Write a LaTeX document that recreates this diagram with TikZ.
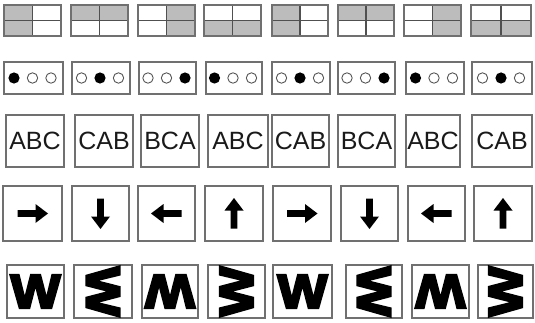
\documentclass[tikz,border=0pt]{standalone}
\usepackage{fontspec}
\setmainfont{Liberation Sans}
\newfontfamily\wfont{Liberation Sans}[FakeBold=5]
\usetikzlibrary{calc}
\definecolor{framegray}{HTML}{707070}
\definecolor{innergray}{HTML}{505050}
\definecolor{cellgray}{HTML}{BCBCBC}
\definecolor{dotgray}{HTML}{555555}
\definecolor{textblack}{HTML}{1A1A1A}
\begin{document}
\begin{tikzpicture}[x=1pt,y=-1pt,line join=miter]
\useasboundingbox (0,0) rectangle (535,323);
\tikzset{
  frame/.style={draw=framegray, line width=1.3pt},
  innerline/.style={draw=innergray, line width=1.1pt},
  cell/.style={inner sep=0pt, outer sep=0pt},
  shade/.style={fill=cellgray},
  dotfull/.style={fill=black},
  dotopen/.style={draw=dotgray, line width=0.9pt, fill=white},
  letters/.style={font=\fontsize{25}{25}\selectfont, text=textblack},
  arrowfill/.style={fill=black},
  wletter/.style={font=\wfont\bfseries\fontsize{48}{48}\selectfont, inner sep=0pt}
}
% row 1: quadrant boxes
\foreach \i/\l/\r in {1/4/61,2/71/128,3/138/195,4/204/261,5/272/328,6/338/394,7/404/461,8/471/531}{
  \node[cell, minimum width={\r-\l}, minimum height=31] (q\i) at ({(\l+\r)/2},20.5) {};
  \pgfmathtruncatemacro\p{mod(\i-1,4)}
  \ifcase\p
    \fill[shade] (q\i.north west) rectangle (q\i.south);
  \or
    \fill[shade] (q\i.north west) rectangle (q\i.east);
  \or
    \fill[shade] (q\i.north) rectangle (q\i.south east);
  \or
    \fill[shade] (q\i.west) rectangle (q\i.south east);
  \fi
  \draw[innerline] (q\i.north) -- (q\i.south) (q\i.west) -- (q\i.east);
  \draw[frame] (q\i.north west) rectangle (q\i.south east);
}
% row 2: dots
\foreach \i/\l/\r/\f in {1/4/63/1,2/72/130/2,3/139/196/3,4/206/262/1,5/272/330/2,6/338/395/3,7/406/464/1,8/472/532/2}{
  \node[cell, frame, minimum width={\r-\l}, minimum height=32] (d\i) at ({(\l+\r)/2},78) {};
  \foreach \j in {1,2,3}{
    \ifnum\j=\f
      \fill[dotfull] ($(d\i.center)+({(\j-2)*18.5-1},0)$) circle (5.6);
    \else
      \draw[dotopen] ($(d\i.center)+({(\j-2)*18.5-1},0)$) circle (5.2);
    \fi
  }
}
% row 3: letters
\foreach \i/\l/\r/\t in {1/6/64/ABC,2/75/133/CAB,3/141/199/BCA,4/208/268/ABC,5/272/329/CAB,6/338/395/BCA,7/406/460/ABC,8/472/532/CAB}{
  \node[cell, frame, letters, minimum width={\r-\l}, minimum height=52] (t\i) at ({(\l+\r)/2},141) {\t};
}
% row 4: arrows
\foreach \i/\l/\r/\rot in {1/3/62/0,2/72/129/-90,3/138/195/180,4/205/263/90,5/273/331/0,6/341/398/-90,7/408/465/180,8/474/532/90}{
  \node[cell, frame, minimum width={\r-\l}, minimum height=55] (a\i) at ({(\l+\r)/2},213.5) {};
  \fill[arrowfill, shift={(a\i.center)}, rotate=\rot]
    (-15,-3.3) -- (3,-3.3) -- (3,-9.5) -- (15.5,0) -- (3,9.5) -- (3,3.3) -- (-15,3.3) -- cycle;
}
% row 5: rotated W
\foreach \i/\l/\r/\rot in {1/7/64/0,2/74/132/-90,3/142/198/180,4/208/265/90,5/273/332/0,6/346/402/-90,7/412/469/180,8/478/533/90}{
  \node[cell, frame, minimum width={\r-\l}, minimum height=53] (w\i) at ({(\l+\r)/2},291.5) {};
  \node[wletter, rotate=\rot] (wl\i) at (w\i.center) {\scalebox{1.1}[1]{W}};
}
\end{tikzpicture}
\end{document}
